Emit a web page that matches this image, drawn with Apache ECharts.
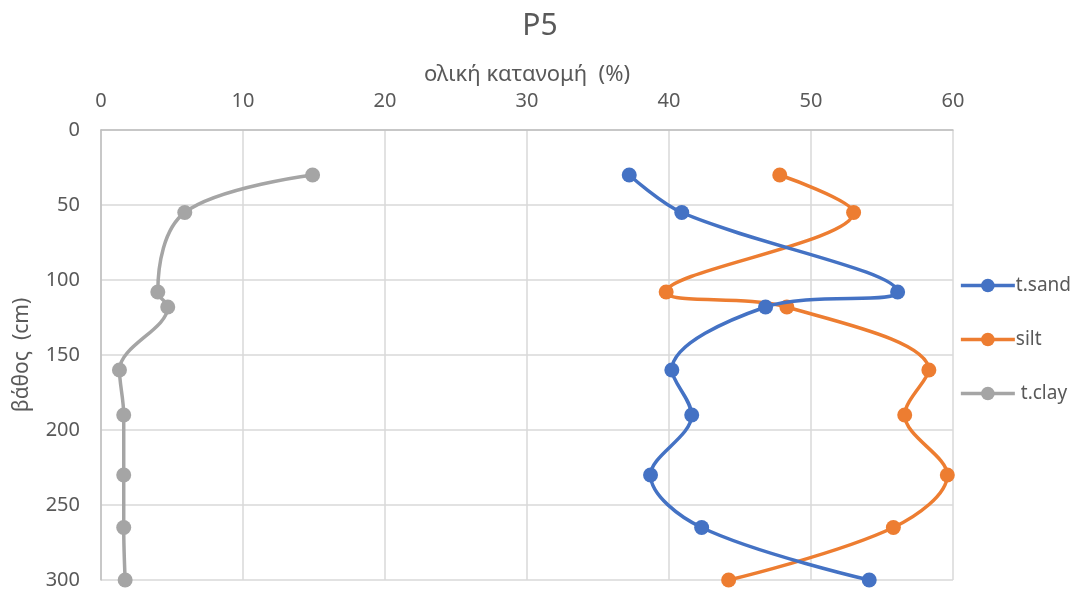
<!DOCTYPE html>
<html><head><meta charset="utf-8">
<script src="https://cdn.jsdelivr.net/npm/echarts@6/dist/echarts.min.js"></script>
<style>html,body{margin:0;padding:0;background:#fff}#c{width:1080px;height:591px}</style>
</head><body><div id="c"></div>
<script>
const depths = [30, 55, 108, 118, 160, 190, 230, 265, 300];
const sand = [37.2, 40.9, 56.1, 46.8, 40.2, 41.6, 38.7, 42.3, 54.1];
const silt = [47.8, 53.0, 39.8, 48.3, 58.3, 56.6, 59.6, 55.8, 44.2];
const clay = [14.9, 5.9, 4.0, 4.7, 1.3, 1.6, 1.6, 1.6, 1.7];
const seriesNames = ['t.sand', 'silt', ' t.clay'];
const colors = ['#4472C4', '#ED7D31', '#A5A5A5'];
const xTicks = [0, 10, 20, 30, 40, 50, 60];
const yTicks = [0, 50, 100, 150, 200, 250, 300];

const font = "'Noto Sans', 'Open Sans', sans-serif";
const txt = '#595959';
const chart = echarts.init(document.getElementById('c'));
function mk(vals, i) {
  return {
    name: seriesNames[i], type: 'line', smooth: 0.35,
    data: vals.map((v, k) => [v, depths[k]]),
    symbol: 'circle', symbolSize: 15,
    lineStyle: { width: 3.5, color: colors[i] },
    itemStyle: { color: colors[i] },
    z: 3 - i
  };
}
chart.setOption({
  animation: false,
  textStyle: { fontFamily: font },
  title: { text: 'P5', left: 'center', top: 6, textStyle: { fontFamily: font, fontWeight: 'normal', fontSize: 30, color: txt } },
  grid: { left: 101, right: 127, top: 130, bottom: 11, containLabel: false },
  legend: {
    orient: 'vertical', right: 4, top: 271, itemGap: 35, itemWidth: 54, itemHeight: 17,
    lineStyle: { width: 3.5 },
    textStyle: { fontFamily: font, fontSize: 19, color: txt, padding: [0, 0, 0, -4] },
    data: seriesNames
  },
  xAxis: {
    type: 'value', position: 'top', min: xTicks[0], max: xTicks[xTicks.length - 1], interval: 10,
    name: 'ολική κατανομή  (%)', nameLocation: 'middle', nameGap: 44,
    nameTextStyle: { fontSize: 22, color: txt, fontFamily: font },
    axisLine: { show: true, lineStyle: { color: '#bfbfbf', width: 1.5 } },
    axisTick: { show: false },
    axisLabel: { fontSize: 20, color: txt, margin: 19, fontFamily: font },
    splitLine: { show: true, lineStyle: { color: '#d9d9d9', width: 1.5 } }
  },
  yAxis: {
    type: 'value', inverse: true, min: yTicks[0], max: yTicks[yTicks.length - 1], interval: 50,
    name: 'βάθος  (cm)', nameLocation: 'middle', nameGap: 68, nameRotate: 90,
    nameTextStyle: { fontSize: 21, color: txt, fontFamily: font },
    axisLine: { show: true, lineStyle: { color: '#bfbfbf', width: 1.5 } },
    axisTick: { show: false },
    axisLabel: { fontSize: 20, color: txt, margin: 21, fontFamily: font },
    splitLine: { show: true, lineStyle: { color: '#d9d9d9', width: 1.5 } }
  },
  series: [mk(sand, 0), mk(silt, 1), mk(clay, 2)]
});
</script></body></html>
